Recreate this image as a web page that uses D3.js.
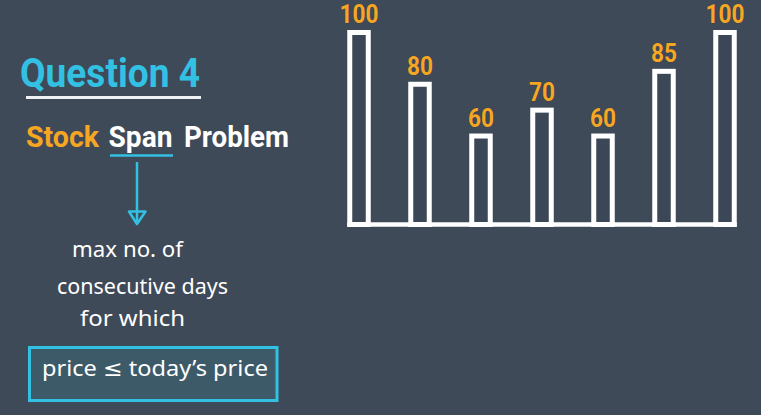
<!DOCTYPE html>
<html>
<head>
<meta charset="utf-8">
<script src="https://d3js.org/d3.v7.min.js"></script>
<style>
  html, body { margin: 0; padding: 0; background: #3f4a59; }
  svg { display: block; }
</style>
</head>
<body>
<script>
// stock prices per day
const days = [1, 2, 3, 4, 5, 6, 7];
const prices = [100, 80, 60, 70, 60, 85, 100];
const noteLines = ["max no. of", "consecutive days", "for which"];
const boxText = "price \u2264 today\u2019s price";

const W = 761, H = 415;
const bg = "#3f4a59", cyan = "#33c1e3", orange = "#f5a623", white = "#ffffff";

const svg = d3.select("body")
  .append("svg")
  .attr("width", W)
  .attr("height", H)
  .style("background-color", bg);

// ---- left side: title and notes ----
const title = svg.append("text")
  .attr("x", 20)
  .attr("y", 87)
  .attr("textLength", 180)
  .attr("lengthAdjust", "spacingAndGlyphs")
  .style("font-family", "Roboto, 'Liberation Sans', sans-serif")
  .style("font-weight", "bold")
  .style("font-size", "41px")
  .style("fill", cyan)
  .text("Question 4");

svg.append("line")
  .attr("x1", 26).attr("x2", 201)
  .attr("y1", 97.5).attr("y2", 97.5)
  .attr("stroke", "#eef2f5")
  .attr("stroke-width", 3);

const sub = svg.append("g")
  .style("font-family", "Roboto, 'Liberation Sans', sans-serif")
  .style("font-weight", "bold")
  .style("font-size", "30px");

[["Stock", 26, 73, orange], ["Span", 108.5, 64, white], ["Problem", 184, 105, white]]
  .forEach(([t, x, w, c]) => {
    sub.append("text")
      .attr("x", x)
      .attr("y", 147)
      .attr("textLength", w)
      .attr("lengthAdjust", "spacingAndGlyphs")
      .style("fill", c)
      .text(t);
  });

svg.append("line")
  .attr("x1", 110).attr("x2", 173)
  .attr("y1", 155.5).attr("y2", 155.5)
  .attr("stroke", cyan)
  .attr("stroke-width", 2.5);

// arrow down
svg.append("line")
  .attr("x1", 137).attr("x2", 137)
  .attr("y1", 162).attr("y2", 224)
  .attr("stroke", cyan)
  .attr("stroke-width", 2.5);
svg.append("path")
  .attr("d", "M129,211.5 L145.5,211.5 L137,224 Z")
  .attr("fill", "none")
  .attr("stroke", cyan)
  .attr("stroke-width", 2.5)
  .attr("stroke-linejoin", "round");

// handwritten note
const notePos = [[72, 257, 111], [57, 294, 171], [80, 326, 105]];
svg.append("g")
  .style("font-family", "'Noto Sans', 'DejaVu Sans', sans-serif")
  .style("font-size", "22px")
  .style("fill", white)
  .selectAll("text")
  .data(noteLines)
  .join("text")
  .attr("x", (d, i) => notePos[i][0])
  .attr("y", (d, i) => notePos[i][1])
  .attr("textLength", (d, i) => notePos[i][2])
  .attr("lengthAdjust", "spacingAndGlyphs")
  .text(d => d);

svg.append("rect")
  .attr("x", 29.5).attr("y", 347.5)
  .attr("width", 247.5).attr("height", 53)
  .attr("fill", "#3d5a68")
  .attr("stroke", cyan)
  .attr("stroke-width", 3);

svg.append("text")
  .attr("x", 42)
  .attr("y", 376)
  .attr("textLength", 226)
  .attr("lengthAdjust", "spacingAndGlyphs")
  .style("font-family", "'Noto Sans', 'DejaVu Sans', sans-serif")
  .style("font-size", "22px")
  .style("fill", white)
  .text(boxText);

// ---- right side: price bars ----
const barW = 23.5, sw = 5;
const x = d3.scalePoint().domain(days).range([359, 725]);
const y = d3.scaleLinear().domain([24, 100]).range([226.7, 30]);
const yBase = 224.5;

svg.append("line")
  .attr("x1", x(days[0]) - barW / 2)
  .attr("x2", x(days[days.length - 1]) + barW / 2)
  .attr("y1", yBase).attr("y2", yBase)
  .attr("stroke", white)
  .attr("stroke-width", 4.5);

const bars = svg.append("g")
  .selectAll("rect")
  .data(days)
  .join("rect")
  .attr("x", d => x(d) - barW / 2 + sw / 2)
  .attr("width", barW - sw)
  .attr("y", (d, i) => y(prices[i]) + sw / 2)
  .attr("height", (d, i) => yBase - y(prices[i]) - sw / 2)
  .attr("fill", "#3b4656")
  .attr("stroke", white)
  .attr("stroke-width", sw);

svg.append("g")
  .style("font-family", "Roboto, 'Liberation Sans', sans-serif")
  .style("font-weight", "bold")
  .style("font-size", "26px")
  .selectAll("text")
  .data(days)
  .join("text")
  .attr("x", d => x(d))
  .attr("y", (d, i) => y(prices[i]) - 7)
  .attr("text-anchor", "middle")
  .attr("textLength", (d, i) => String(prices[i]).length * 13)
  .attr("lengthAdjust", "spacingAndGlyphs")
  .style("fill", orange)
  .style("stroke", "#2c3644")
  .style("stroke-width", 0.6)
  .style("paint-order", "stroke")
  .text((d, i) => prices[i]);
</script>
</body>
</html>
